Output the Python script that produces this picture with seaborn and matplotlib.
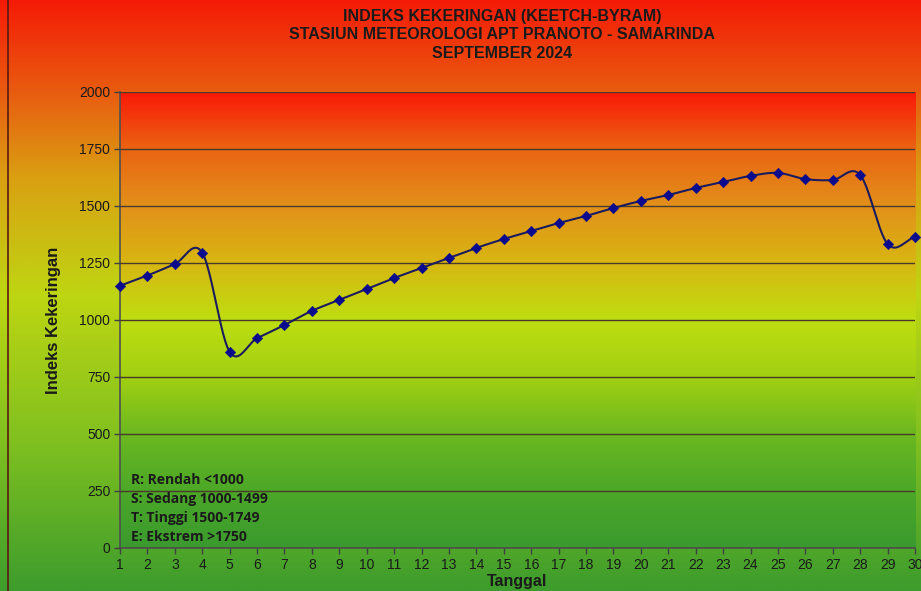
import numpy as np
import matplotlib
matplotlib.use("Agg")
import matplotlib.pyplot as plt
from matplotlib.colors import LinearSegmentedColormap
import seaborn as sns

# data
days = list(range(1, 31))
kbdi = [1150, 1195, 1245, 1295, 860, 920, 978, 1040, 1088, 1136,
        1184, 1228, 1272, 1316, 1355, 1390, 1425, 1456, 1491, 1522,
        1548, 1579, 1605, 1632, 1645, 1618, 1614, 1636, 1333, 1364]
legend_lines = ["R: Rendah <1000", "S: Sedang 1000-1499",
                "T: Tinggi 1500-1749", "E: Ekstrem >1750"]
title = "INDEKS KEKERINGAN (KEETCH-BYRAM)\nSTASIUN METEOROLOGI APT PRANOTO - SAMARINDA\nSEPTEMBER 2024"

sns.set_style("white")
plt.rcParams['font.family'] = ['Liberation Sans', 'DejaVu Sans']

fig = plt.figure(figsize=(9.21, 5.91), dpi=100)

# figure background gradient (top red -> bottom green)
bg_cmap = LinearSegmentedColormap.from_list("bg", [
    (0.0, "#f51b06"), (0.16, "#e85e10"), (0.30, "#daa012"),
    (0.50, "#bed612"), (0.75, "#7fc020"), (1.0, "#3d9c2d")])
bg = fig.add_axes([0, 0, 1, 1], zorder=-10)
bg.imshow(np.linspace(0, 1, 256).reshape(-1, 1), cmap=bg_cmap, aspect="auto",
          extent=[0, 1, 0, 1], origin="upper")
bg.axvline(0.009, color="#5a1a10", lw=1.2)
bg.set_axis_off()

ax = fig.add_axes([0.1303, 0.0728, 0.8632, 0.7716])
ax.set_facecolor("none")

# plot-area gradient by value
pa_cmap = LinearSegmentedColormap.from_list("pa", [
    (0.0, "#3a9a2e"), (0.125, "#4ca828"), (0.25, "#6cb820"),
    (0.375, "#a2d012"), (0.5, "#bede10"), (0.625, "#d8b612"),
    (0.75, "#e2901a"), (0.875, "#ea6412"), (1.0, "#fa1808")])
ax.imshow(np.linspace(0, 1, 256).reshape(-1, 1), cmap=pa_cmap, aspect="auto",
          extent=[1, 30, 0, 2000], origin="lower", zorder=0)

# smoothed line (Excel-style Catmull-Rom through the points)
x = np.array(days, dtype=float)
y = np.array(kbdi, dtype=float)
px = np.concatenate([[2 * x[0] - x[1]], x, [2 * x[-1] - x[-2]]])
py = np.concatenate([[2 * y[0] - y[1]], y, [2 * y[-1] - y[-2]]])
sx, sy = [], []
t = np.linspace(0, 1, 25)
for i in range(1, len(px) - 2):
    p0, p1, p2, p3 = px[i - 1], px[i], px[i + 1], px[i + 2]
    q0, q1, q2, q3 = py[i - 1], py[i], py[i + 1], py[i + 2]
    for a, b, c, d, out in ((p0, p1, p2, p3, sx), (q0, q1, q2, q3, sy)):
        out.extend(0.5 * (2 * b + (-a + c) * t + (2 * a - 5 * b + 4 * c - d) * t ** 2
                          + (-a + 3 * b - 3 * c + d) * t ** 3))
ax.plot(sx, sy, color="#1c1c5c", lw=1.5, zorder=3, clip_on=False)
sns.scatterplot(x=days, y=kbdi, marker="D", s=28, color="#0a0a8c",
                edgecolor="#0a0a8c", zorder=4, ax=ax, clip_on=False)

ax.set_xlim(1, 30)
ax.set_ylim(0, 2000)
ax.set_xticks(days)
ax.set_yticks(range(0, 2001, 250))
ax.yaxis.grid(True, color="#4a3a2a", lw=1.0)
ax.set_axisbelow(False)
for gl in ax.get_ygridlines():
    gl.set_zorder(1)
ax.tick_params(axis="both", direction="out", length=4, width=1, color="#404040",
               labelsize=10, labelcolor="#1a1a1a", pad=3)
ax.tick_params(left=True, bottom=True)
for side in ["top", "right"]:
    ax.spines[side].set_visible(False)
for side in ["left", "bottom"]:
    ax.spines[side].set_color("#505050")
    ax.spines[side].set_linewidth(1.2)

ax.set_xlabel("Tanggal", fontsize=11.5, fontweight="bold", color="#1a1a1a", labelpad=2)
ax.set_ylabel("Indeks Kekeringan", fontsize=12, fontweight="bold", color="#1a1a1a", labelpad=13)

fig.text(0.545, 0.985, title, ha="center", va="top", fontsize=11.5, fontweight="bold",
         color="#1a1a1a", linespacing=1.3)

for i, line in enumerate(legend_lines):
    ax.text(0.014, 0.148 - i * 0.041, line, transform=ax.transAxes, ha="left", va="center",
            fontsize=10, fontweight="bold", color="#1a1a1a",
            family=["Open Sans", "DejaVu Sans"], zorder=5)

fig.savefig("out.png", dpi=100)
